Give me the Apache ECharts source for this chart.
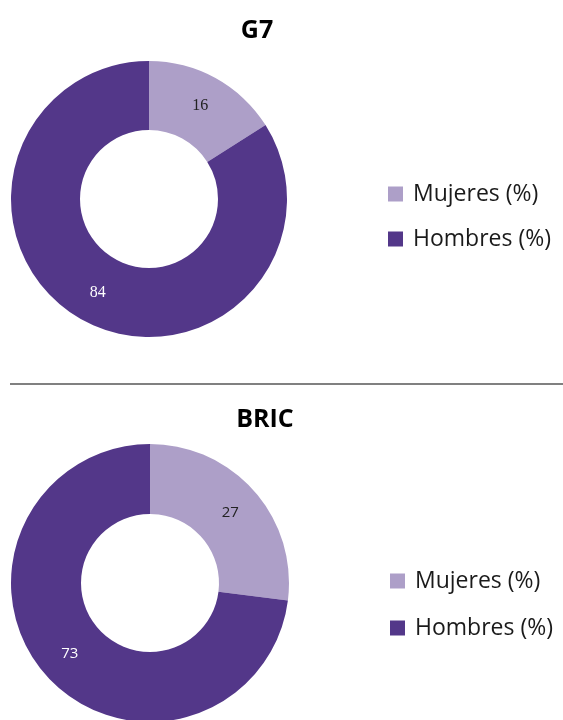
<!DOCTYPE html>
<html>
<head>
<meta charset="utf-8">
<script src="https://cdn.jsdelivr.net/npm/echarts@6/dist/echarts.min.js"></script>
<style>
  html, body { margin: 0; padding: 0; background: #fff; }
  #main { width: 563px; height: 720px; }
</style>
</head>
<body>
<div id="main"></div>
<script>
var categories = ['Mujeres (%)', 'Hombres (%)'];
var g7Values = [16, 84];
var bricValues = [27, 73];
var groupTitles = ['G7', 'BRIC'];

var colors = ['#ad9fc8', '#533789'];
var labelColors = ['#222222', '#ffffff'];

var myChart = echarts.init(document.getElementById('main'));

function buildData(values, labelFont, labelSize) {
    return categories.map(function (name, i) {
        return {
            name: name,
            value: values[i],
            itemStyle: { color: colors[i] },
            label: { color: labelColors[i], fontFamily: labelFont, fontSize: labelSize }
        };
    });
}

function legendAt(left, top, gap) {
    return {
        orient: 'vertical',
        left: left,
        top: top,
        icon: 'rect',
        itemWidth: 15,
        itemHeight: 15,
        itemGap: gap,
        selectedMode: false,
        data: categories,
        textStyle: {
            fontFamily: 'Open Sans',
            fontSize: 23,
            lineHeight: 24,
            color: '#1a1a1a',
            padding: [0, 0, 0, 5]
        }
    };
}

var option = {
    animation: false,
    title: [
        {
            text: groupTitles[0],
            left: 252,
            top: 13,
            textAlign: 'center',
            textStyle: { fontFamily: 'Open Sans', fontWeight: 'bold', fontSize: 25, color: '#000' }
        },
        {
            text: groupTitles[1],
            left: 260,
            top: 402,
            textAlign: 'center',
            textStyle: { fontFamily: 'Open Sans', fontWeight: 'bold', fontSize: 25, color: '#000' }
        }
    ],
    legend: [legendAt(383, 177, 21), legendAt(385, 564, 23)],
    graphic: [
        {
            type: 'line',
            shape: { x1: 10, y1: 384, x2: 563, y2: 384 },
            style: { stroke: '#808080', lineWidth: 2 }
        }
    ],
    series: [
        {
            type: 'pie',
            center: [149, 199],
            radius: [69, 138],
            startAngle: 90,
            clockwise: true,
            silent: true,
            label: { position: 'inside', formatter: '{c}' },
            labelLine: { show: false },
            data: buildData(g7Values, 'Liberation Serif', 16)
        },
        {
            type: 'pie',
            center: [150, 583],
            radius: [69, 139],
            startAngle: 90,
            clockwise: true,
            silent: true,
            label: { position: 'inside', formatter: '{c}' },
            labelLine: { show: false },
            data: buildData(bricValues, 'Open Sans', 15)
        }
    ]
};

myChart.setOption(option);
</script>
</body>
</html>
